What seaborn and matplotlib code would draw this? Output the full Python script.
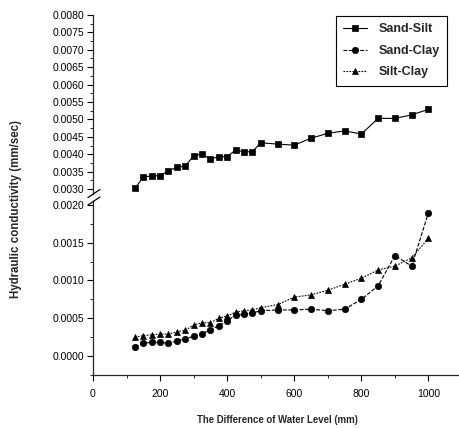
"""
Hydraulic conductivity vs difference of water level (broken y axis)
"""
import matplotlib
matplotlib.use('Agg')
import matplotlib.pyplot as plt
from matplotlib import font_manager
from matplotlib.lines import Line2D
import seaborn as sns

# data
water_level = [125, 150, 175, 200, 225, 250, 275, 300, 325, 350, 375, 400, 425,
               450, 475, 500, 550, 600, 650, 700, 750, 800, 850, 900, 950, 1000]

sand_silt = [0.00302, 0.00334, 0.00338, 0.00338, 0.00353, 0.00362, 0.00366,
             0.00395, 0.00401, 0.00386, 0.00393, 0.00393, 0.00412, 0.00407,
             0.00407, 0.00433, 0.00429, 0.00426, 0.00446, 0.00460, 0.00467,
             0.00458, 0.00503, 0.00503, 0.00513, 0.00529]

sand_clay = [0.00012, 0.00017, 0.00018, 0.00018, 0.00017, 0.00020, 0.00023,
             0.00026, 0.00029, 0.00035, 0.00040, 0.00047, 0.00054, 0.00055,
             0.00057, 0.00060, 0.00061, 0.00061, 0.00062, 0.00060, 0.00062,
             0.00075, 0.00093, 0.00133, 0.00119, 0.00190]

silt_clay = [0.00025, 0.00027, 0.00028, 0.00029, 0.00029, 0.00032, 0.00034,
             0.00041, 0.00044, 0.00044, 0.00050, 0.00053, 0.00058, 0.00060,
             0.00061, 0.00064, 0.00068, 0.00078, 0.00081, 0.00087, 0.00095,
             0.00103, 0.00114, 0.00119, 0.00130, 0.00156]

series_names = ['Sand-Silt', 'Sand-Clay', 'Silt-Clay']
upper_ticks = [0.0030, 0.0035, 0.0040, 0.0045, 0.0050, 0.0055, 0.0060,
               0.0065, 0.0070, 0.0075, 0.0080]
lower_ticks = [0.0000, 0.0005, 0.0010, 0.0015, 0.0020]
x_ticks = [0, 200, 400, 600, 800, 1000]


def has_font(name):
    try:
        font_manager.findfont(name, fallback_to_default=False)
        return True
    except Exception:
        return False


sns.set_style('ticks')
plt.rcParams['font.family'] = ['Liberation Sans', 'DejaVu Sans']
narrow = 'Liberation Sans Narrow' if has_font('Liberation Sans Narrow') else None

fig = plt.figure(figsize=(4.59, 4.28), dpi=100)
ax_top = fig.add_axes([0.2026, 0.5470, 0.7974, 0.4180])
ax_bot = fig.add_axes([0.2026, 0.1241, 0.7974, 0.4058], sharex=ax_top)

common = dict(color='black', markeredgecolor='black', markeredgewidth=0.5,
              markersize=4.6, linewidth=0.8, legend=False)

sns.lineplot(x=water_level, y=sand_silt, marker='s', linestyle='-',
             label=series_names[0], ax=ax_top, **common)
sns.lineplot(x=water_level, y=sand_clay, marker='o', linestyle=(0, (3.5, 1.5)),
             label=series_names[1], ax=ax_bot, **common)
sns.lineplot(x=water_level, y=silt_clay, marker='^', linestyle=(0, (1.5, 1.2)),
             label=series_names[2], ax=ax_bot, **common)

# axis limits
ax_top.set_ylim(0.00286, 0.0080)
ax_bot.set_ylim(-0.00025, 0.00205)
ax_bot.set_xlim(0, 1091)

# spines
for ax in (ax_top, ax_bot):
    ax.spines['top'].set_visible(False)
    ax.spines['right'].set_visible(False)
    ax.spines['left'].set_linewidth(0.9)
ax_top.spines['bottom'].set_visible(False)
ax_bot.spines['bottom'].set_linewidth(0.9)

# ticks
ax_top.set_yticks(upper_ticks)
ax_top.set_yticks([0.00325 + 0.0005 * i for i in range(10)], minor=True)
ax_bot.set_yticks(lower_ticks)
ax_bot.set_yticks([-0.00025, 0.00025, 0.00075, 0.00125, 0.00175], minor=True)
ax_top.set_yticklabels([f'{v:.4f}' for v in upper_ticks])
ax_bot.set_yticklabels([f'{v:.4f}' for v in lower_ticks])
ax_bot.set_xticks(x_ticks)
ax_bot.set_xticks([100, 300, 500, 700, 900], minor=True)
ax_bot.set_xticklabels([str(v) for v in x_ticks])
ax_top.tick_params(axis='x', which='both', bottom=False, labelbottom=False)

for ax in (ax_top, ax_bot):
    ax.tick_params(axis='both', which='major', direction='out', length=4,
                   width=0.8, labelsize=7.5, pad=2, colors='black')
    ax.tick_params(axis='both', which='minor', direction='out', length=2.2,
                   width=0.7)
    ax.set_xlabel('')
    ax.set_ylabel('')
ax_bot.tick_params(axis='x', which='major', pad=6)

# break marks on the y axis
for y0 in (197.5, 205.0):
    fig.add_artist(Line2D([88 / 459, 100 / 459],
                          [1 - y0 / 428, 1 - (y0 - 8) / 428],
                          color='black', linewidth=0.9))

# axis titles
xlabel_kw = dict(fontsize=8.5, fontweight='bold')
if narrow:
    xlabel_kw['family'] = [narrow, 'DejaVu Sans']
else:
    xlabel_kw['fontsize'] = 6.9
fig.text(277 / 459, 1 - 420 / 428, 'The Difference of Water Level (mm)',
         ha='center', va='center', **xlabel_kw)
fig.text(16 / 459, 1 - 209 / 428, 'Hydraulic conductivity (mm/sec)',
         ha='center', va='center', rotation=90, fontsize=8.3, fontweight='bold')

# legend combining both axes
handles = ax_top.get_lines()[:1] + ax_bot.get_lines()[:2]
leg = ax_top.legend(handles, series_names, loc='upper right',
                    bbox_to_anchor=(447 / 459, 1 - 16 / 428),
                    bbox_transform=fig.transFigure, frameon=True,
                    fancybox=False, framealpha=1, edgecolor='black',
                    borderaxespad=0, handlelength=1.9, handletextpad=0.9,
                    labelspacing=0.75, borderpad=0.6,
                    prop={'size': 9, 'weight': 'bold'})
leg.get_frame().set_linewidth(0.8)

fig.savefig('out.png', dpi=100, facecolor='white')
